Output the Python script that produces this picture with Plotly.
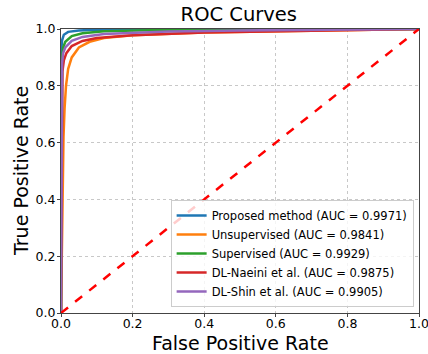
import plotly.graph_objects as go

names = ["Proposed method (AUC = 0.9971)", "Unsupervised (AUC = 0.9841)",
         "Supervised (AUC = 0.9929)", "DL-Naeini et al. (AUC = 0.9875)",
         "DL-Shin et al. (AUC = 0.9905)"]
colors = ["#1f77b4", "#ff7f0e", "#2ca02c", "#d62728", "#9467bd"]

fpr_proposed = [0, 0.0005, 0.001, 0.003, 0.008, 0.02, 0.05, 0.1, 0.3, 1.0]
tpr_proposed = [0, 0.85, 0.93, 0.96, 0.98, 0.99, 0.995, 0.997, 0.999, 1.0]

fpr_unsup = [0, 0.003, 0.005, 0.007, 0.01, 0.014, 0.02, 0.03, 0.05, 0.08, 0.12, 0.2, 0.4, 0.7, 1.0]
tpr_unsup = [0, 0.3, 0.5, 0.62, 0.72, 0.8, 0.86, 0.9, 0.935, 0.955, 0.968, 0.978, 0.988, 0.995, 1.0]

fpr_sup = [0, 0.001, 0.003, 0.006, 0.012, 0.03, 0.06, 0.12, 0.3, 1.0]
tpr_sup = [0, 0.82, 0.9, 0.935, 0.955, 0.975, 0.985, 0.992, 0.997, 1.0]

fpr_naeini = [0, 0.002, 0.004, 0.008, 0.015, 0.03, 0.06, 0.1, 0.2, 0.4, 0.7, 1.0]
tpr_naeini = [0, 0.78, 0.85, 0.89, 0.915, 0.94, 0.958, 0.968, 0.978, 0.988, 0.995, 1.0]

fpr_shin = [0, 0.001, 0.003, 0.006, 0.012, 0.03, 0.06, 0.12, 0.3, 0.5, 1.0]
tpr_shin = [0, 0.8, 0.88, 0.915, 0.935, 0.958, 0.972, 0.982, 0.991, 0.995, 1.0]

diag = [0.0, 1.0]

series = [(fpr_proposed, tpr_proposed), (fpr_unsup, tpr_unsup), (fpr_sup, tpr_sup),
          (fpr_naeini, tpr_naeini), (fpr_shin, tpr_shin)]
ticks = [0.0, 0.2, 0.4, 0.6, 0.8, 1.0]
tick_labels = ["0.0", "0.2", "0.4", "0.6", "0.8", "1.0"]

fig = go.Figure()
for (x, y), n, c in zip(series, names, colors):
    fig.add_trace(go.Scatter(x=x, y=y, mode="lines", name=n,
                             line=dict(color=c, width=2.5)))
fig.add_trace(go.Scatter(x=diag, y=diag, mode="lines", showlegend=False,
                         line=dict(color="red", width=2.5, dash="dash")))

axis_common = dict(range=[0, 1], tickvals=ticks, ticktext=tick_labels,
                   showgrid=True, gridcolor="#c8c8c8", griddash="dot", gridwidth=1,
                   showline=True, linecolor="#444", linewidth=1, mirror=True,
                   ticks="outside", ticklen=3, tickcolor="#444", automargin=False,
                   ticklabeloverflow="allow",
                   tickfont=dict(size=12.5, color="black"), zeroline=False)

fig.update_layout(
    width=428, height=354,
    margin=dict(l=61, r=9, t=29, b=41),
    paper_bgcolor="white", plot_bgcolor="white",
    font=dict(family="DejaVu Sans", color="black"),
    title=dict(text="ROC Curves", x=0.558, xanchor="center", y=0.96, yanchor="middle",
               font=dict(size=19.5)),
    xaxis=dict(axis_common, ticklabelstandoff=-4),
    yaxis=dict(axis_common, ticklabelstandoff=-1),
    legend=dict(x=0.985, y=0.021, xanchor="right", yanchor="bottom",
                bgcolor="rgba(255,255,255,0.8)", bordercolor="#ccc", borderwidth=1,
                font=dict(size=11.5), tracegroupgap=0, itemwidth=30),
    annotations=[
        dict(text="False Positive Rate", xref="paper", yref="paper", x=0.5, y=0,
             xanchor="center", yanchor="middle", yshift=-30, showarrow=False,
             font=dict(size=19)),
        dict(text="True Positive Rate", xref="paper", yref="paper", x=0, y=0.5,
             xanchor="center", yanchor="middle", xshift=-40, textangle=-90,
             showarrow=False, font=dict(size=19)),
    ],
)

fig.write_html("out.html")
